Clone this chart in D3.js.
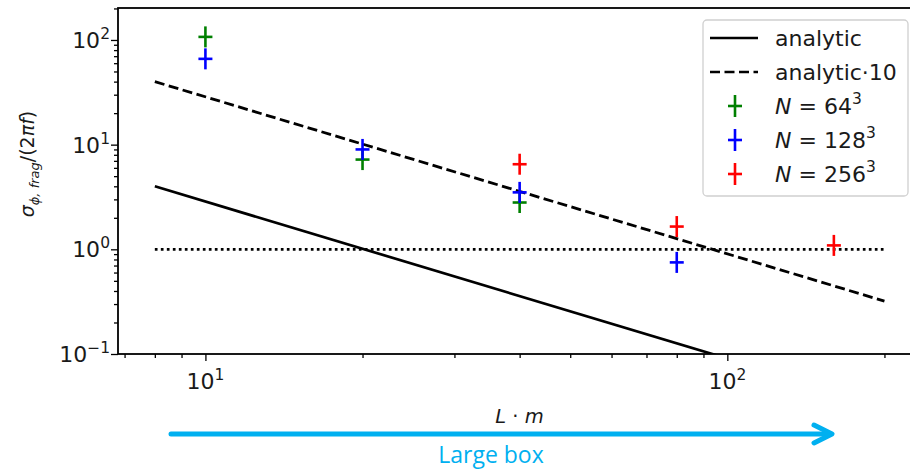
<!DOCTYPE html>
<html><head><meta charset="utf-8">
<script src="https://cdnjs.cloudflare.com/ajax/libs/d3/7.8.5/d3.min.js"></script>
<style>html,body{margin:0;padding:0;background:#fff;}svg{display:block;}</style>
</head><body>
<svg id="c" width="910" height="471"></svg>
<script>
// ---- data ----
const lineL = [8, 200];
const analytic = [4.0, 0.032];
const analytic10 = [40, 0.32];
const unity = [1, 1];
const L64 = [10, 20, 40];
const N64 = [107, 7.2, 2.8];
const L128 = [10, 20, 40, 80];
const N128 = [66, 9.0, 3.5, 0.75];
const L256 = [40, 80, 160];
const N256 = [6.5, 1.65, 1.09];
const xMajor = [10, 100];
const yMajor = [0.1, 1, 10, 100];
const xTickLabels = [["10","1"],["10","2"]];
const yTickLabels = [["10","\u22121"],["10","0"],["10","1"],["10","2"]];
const legendLabels = ["analytic", "analytic\u00b710"];
const seriesNames = [["N","64","3"],["N","128","3"],["N","256","3"]];
const colors = ["#008000", "#0000ff", "#ff0000"];

// ---- layout ----
const pL = 118, pT = 8, pR = 921, pB = 354;
const svg = d3.select("#c");
const x = d3.scaleLog().domain([6.8, 235]).range([pL, pR]);
const y = d3.scaleLog().domain([0.1, 202]).range([pB, pT]);

svg.append("clipPath").attr("id","clip").append("rect")
  .attr("x", pL).attr("y", pT).attr("width", pR-pL).attr("height", pB-pT);
const plot = svg.append("g").attr("clip-path","url(#clip)");

const line = d3.line().x(d=>x(d[0])).y(d=>y(d[1]));
plot.append("path").datum(d3.zip(lineL, analytic)).attr("d", line)
  .attr("fill","none").attr("stroke","#000").attr("stroke-width",2.7);
plot.append("path").datum(d3.zip(lineL, analytic10)).attr("d", line)
  .attr("fill","none").attr("stroke","#000").attr("stroke-width",2.8).attr("stroke-dasharray","10,4.5");
plot.append("path").datum(d3.zip(lineL, unity)).attr("d", line)
  .attr("fill","none").attr("stroke","#000").attr("stroke-width",2.7).attr("stroke-dasharray","2.7,3.3");

function plus(g, cx, cy, col, vh, hh){
  g.append("line").attr("x1",cx).attr("x2",cx).attr("y1",cy-vh).attr("y2",cy+vh)
    .attr("stroke",col).attr("stroke-width",2.6);
  g.append("line").attr("x1",cx-hh).attr("x2",cx+hh).attr("y1",cy).attr("y2",cy)
    .attr("stroke",col).attr("stroke-width",2.6);
}
[[L64,N64],[L128,N128],[L256,N256]].forEach((s,i)=>{
  s[0].forEach((L,j)=>plus(plot, x(L), y(s[1][j]), colors[i], 10.5, 7));
});

// ---- axes ----
const axG = svg.append("g");
const tickFont = "DejaVu Sans";
function minorTicks(dom){
  const out=[];
  for(let e=-2;e<=3;e++) for(let k=1;k<=9;k++){ const v=k*Math.pow(10,e); if(v>=dom[0]&&v<=dom[1]) out.push(v);} return out;
}
const xAxis = d3.axisBottom(x).tickValues(minorTicks(x.domain())).tickFormat("").tickSizeOuter(0);
const yAxis = d3.axisLeft(y).tickValues(minorTicks(y.domain())).tickFormat("").tickSizeOuter(0);
const gx = axG.append("g").attr("transform",`translate(0,${pB})`).call(xAxis);
const gy = axG.append("g").attr("transform",`translate(${pL},0)`).call(yAxis);
[gx,gy].forEach(g=>{
  g.select(".domain").remove();
  g.selectAll(".tick line").attr("stroke","#000").attr("stroke-width",1.3)
    .each(function(d){
      const maj = Math.abs(Math.log10(d) - Math.round(Math.log10(d)))<1e-9;
      const len = maj?7:4;
      const sel = d3.select(this);
      if(g===gx) sel.attr("y2",len); else sel.attr("x2",-len);
    });
});
// spines
svg.append("rect").attr("x",pL).attr("y",pT).attr("width",pR-pL).attr("height",pB-pT)
  .attr("fill","none").attr("stroke","#000").attr("stroke-width",1.8);

// tick labels
const tfs = 22, sfs = 15.5;
xMajor.forEach((v,i)=>{
  const t = svg.append("text").attr("x", x(v)).attr("y", pB+35).attr("text-anchor","middle")
    .attr("font-family",tickFont).attr("font-size",tfs).attr("fill","#1a1a1a");
  t.append("tspan").text(xTickLabels[i][0]);
  t.append("tspan").attr("dy",-9).attr("font-size",sfs).text(xTickLabels[i][1]);
});
yMajor.forEach((v,i)=>{
  const t = svg.append("text").attr("x", pL-8).attr("y", y(v)+8).attr("text-anchor","end")
    .attr("font-family",tickFont).attr("font-size",tfs).attr("fill","#1a1a1a");
  t.append("tspan").text(yTickLabels[i][0]);
  t.append("tspan").attr("dy",-9).attr("font-size",sfs).text(yTickLabels[i][1]);
});

// axis labels
const xl = svg.append("text").attr("x",(pL+pR)/2).attr("y",423).attr("text-anchor","middle")
  .attr("font-family",tickFont).attr("font-size",19.5).attr("fill","#1a1a1a");
xl.append("tspan").attr("font-style","italic").text("L");
xl.append("tspan").text(" \u00b7 ");
xl.append("tspan").attr("font-style","italic").text("m");

const yl = svg.append("text").attr("transform",`translate(34,164) rotate(-90)`)
  .attr("text-anchor","middle").attr("font-family",tickFont).attr("font-size",19).attr("fill","#1a1a1a");
yl.append("tspan").attr("font-style","italic").text("\u03c3");
yl.append("tspan").attr("dy",5).attr("font-size",13).attr("font-style","italic").text("\u03d5, frag");
yl.append("tspan").attr("dy",-5).text("/(2");
yl.append("tspan").attr("font-style","italic").text("\u03c0f");
yl.append("tspan").text(")");

// legend
const lg = svg.append("g");
lg.append("rect").attr("x",703).attr("y",20).attr("width",205).attr("height",176).attr("rx",4)
  .attr("fill","#fff").attr("fill-opacity",0.85).attr("stroke","#d0d0d0").attr("stroke-width",1.3);
const rows = [38, 72, 106, 140, 174];
const dashes = [null, "10,4.5"];
const lfs = 22;
legendLabels.forEach((lab,i)=>{
  lg.append("line").attr("x1",710).attr("x2",758).attr("y1",rows[i]).attr("y2",rows[i])
    .attr("stroke","#000").attr("stroke-width",2.7).attr("stroke-dasharray",dashes[i]);
  lg.append("text").attr("x",775).attr("y",rows[i]+8).attr("font-family",tickFont).attr("font-size",lfs)
    .attr("fill","#1a1a1a").text(lab);
});
seriesNames.forEach((s,i)=>{
  const ry = rows[i+2];
  plus(lg, 735, ry, colors[i], 11, 7);
  const t = lg.append("text").attr("x",775).attr("y",ry+8).attr("font-family",tickFont).attr("font-size",lfs).attr("fill","#1a1a1a");
  t.append("tspan").attr("font-style","italic").text(s[0]);
  t.append("tspan").text(" = " + s[1]);
  t.append("tspan").attr("dy",-10).attr("font-size",15.5).text(s[2]);
});

// annotation arrow
const ac = "#00b0f0";
svg.append("line").attr("x1",171).attr("x2",830).attr("y1",434).attr("y2",434)
  .attr("stroke",ac).attr("stroke-width",5).attr("stroke-linecap","round");
svg.append("polyline").attr("points","814,425 832,434 814,443").attr("fill","none")
  .attr("stroke",ac).attr("stroke-width",5).attr("stroke-linecap","round").attr("stroke-linejoin","round");
svg.append("text").attr("x",491).attr("y",463).attr("text-anchor","middle")
  .attr("font-family","Open Sans").attr("font-size",23).attr("fill",ac).text("Large box");
</script>
</body></html>
